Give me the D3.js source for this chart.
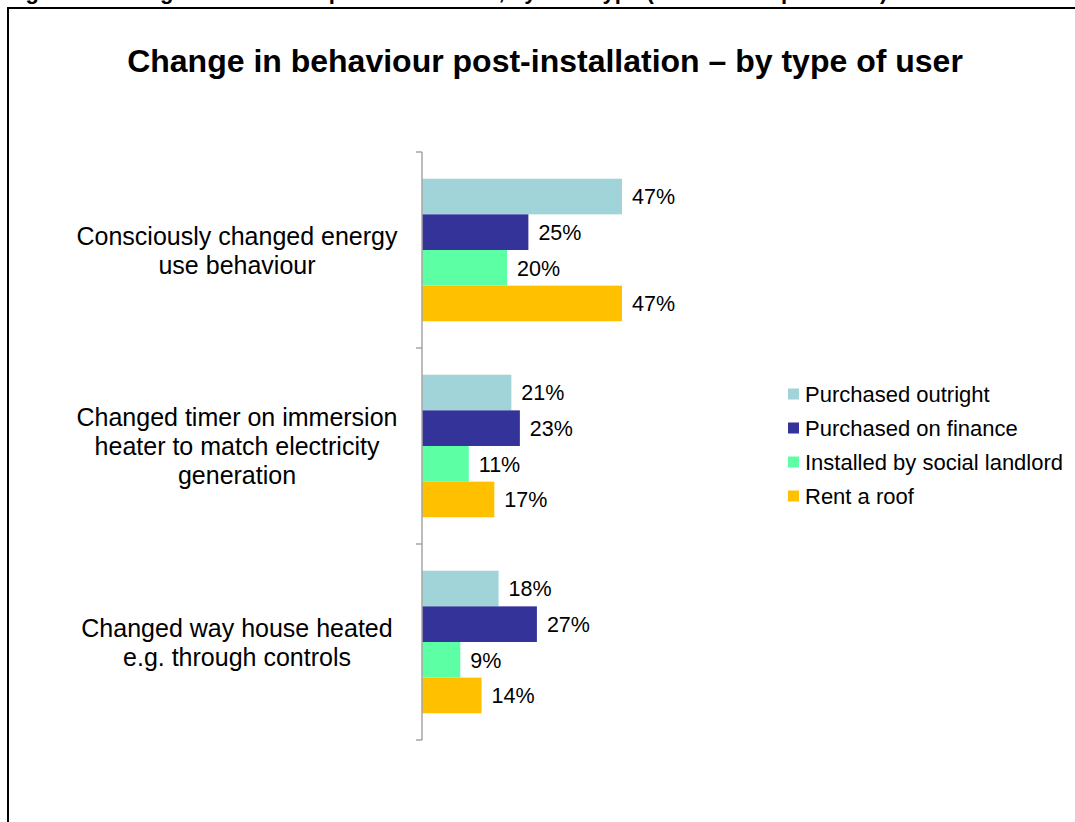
<!DOCTYPE html>
<html>
<head>
<meta charset="utf-8">
<script src="https://cdn.jsdelivr.net/npm/d3@7"></script>
<style>
  html, body { margin: 0; padding: 0; background: #fff; }
  svg { display: block; font-family: "Liberation Sans", Arial, sans-serif; }
</style>
</head>
<body>
<svg id="chart" width="1075" height="822"></svg>
<script>
// Survey responses: share of each user type reporting the behaviour change
const categories = [
  ["Consciously changed energy", "use behaviour"],
  ["Changed timer on immersion", "heater to match electricity", "generation"],
  ["Changed way house heated", "e.g. through controls"]
];
const seriesNames = ["Purchased outright", "Purchased on finance", "Installed by social landlord", "Rent a roof"];
const purchasedOutright = [47, 21, 18];
const purchasedOnFinance = [25, 23, 27];
const socialLandlord = [20, 11, 9];
const rentARoof = [47, 17, 14];
const seriesColors = ["#A0D4D8", "#333399", "#5CFFA4", "#FFC000"];

const series = [purchasedOutright, purchasedOnFinance, socialLandlord, rentARoof];
const svg = d3.select("#chart");

// Frame and caption running off the top edge
svg.append("text")
  .attr("x", 6).attr("y", -1)
  .attr("font-size", 22).attr("font-weight", "bold").attr("fill", "#000")
  .text("Figure 4: Change in behaviour post-installation, by user type (base: all respondents)");
svg.append("rect")
  .attr("x", 8).attr("y", 8).attr("width", 1080).attr("height", 830)
  .attr("fill", "#fff").attr("stroke", "#000").attr("stroke-width", 2);

// Title
svg.append("text")
  .attr("x", 545).attr("y", 72)
  .attr("text-anchor", "middle")
  .attr("font-size", 32).attr("font-weight", "bold")
  .text("Change in behaviour post-installation \u2013 by type of user");

// Scales
const y0 = d3.scaleBand().domain(d3.range(categories.length)).range([152, 740]);
const y1 = d3.scaleBand().domain(d3.range(series.length)).range([0, y0.bandwidth()]).paddingOuter(0.75).paddingInner(0);
const x = d3.scaleLinear().domain([0, 47]).range([422, 622]);

// Bars and value labels
const groups = svg.append("g").selectAll("g")
  .data(categories)
  .join("g")
  .attr("transform", (d, i) => `translate(0,${y0(i)})`);

groups.each(function(cat, ci) {
  const g = d3.select(this);
  series.forEach((vals, si) => {
    g.append("rect")
      .attr("x", x(0))
      .attr("y", y1(si))
      .attr("width", x(vals[ci]) - x(0))
      .attr("height", y1.bandwidth())
      .attr("fill", seriesColors[si]);
    g.append("text")
      .attr("x", x(vals[ci]) + 10)
      .attr("y", y1(si) + y1.bandwidth() / 2)
      .attr("dy", "0.36em")
      .attr("font-size", 21.5)
      .attr("fill", "#000")
      .text(vals[ci] + "%");
  });
});

// Category axis with boundary ticks
const axisColor = "#A6A6A6";
svg.append("line")
  .attr("x1", x(0)).attr("x2", x(0))
  .attr("y1", y0.range()[0]).attr("y2", y0.range()[1])
  .attr("stroke", axisColor).attr("stroke-width", 1.5);
const tickYs = categories.map((d, i) => y0(i)).concat([y0.range()[1]]);
svg.append("g").selectAll("line")
  .data(tickYs)
  .join("line")
  .attr("x1", x(0) - 6).attr("x2", x(0))
  .attr("y1", d => d).attr("y2", d => d)
  .attr("stroke", axisColor).attr("stroke-width", 1.5);

// Category labels (multi-line, centred)
const lineH = 29;
categories.forEach((lines, i) => {
  const cy = y0(i) + y0.bandwidth() / 2;
  const t = svg.append("text")
    .attr("text-anchor", "middle")
    .attr("font-size", 25)
    .attr("fill", "#000");
  lines.forEach((ln, j) => {
    t.append("tspan")
      .attr("x", 237)
      .attr("y", cy + (j - (lines.length - 1) / 2) * lineH)
      .attr("dy", "0.36em")
      .text(ln);
  });
});

// Legend
const legend = svg.append("g").attr("transform", "translate(788,394)");
seriesNames.forEach((name, i) => {
  const row = legend.append("g").attr("transform", `translate(0,${i * 34})`);
  row.append("rect").attr("x", 0).attr("y", -5.5).attr("width", 11).attr("height", 11).attr("fill", seriesColors[i]);
  row.append("text").attr("x", 17).attr("y", 0).attr("dy", "0.36em")
    .attr("font-size", 22).attr("fill", "#000").text(name);
});
</script>
</body>
</html>
